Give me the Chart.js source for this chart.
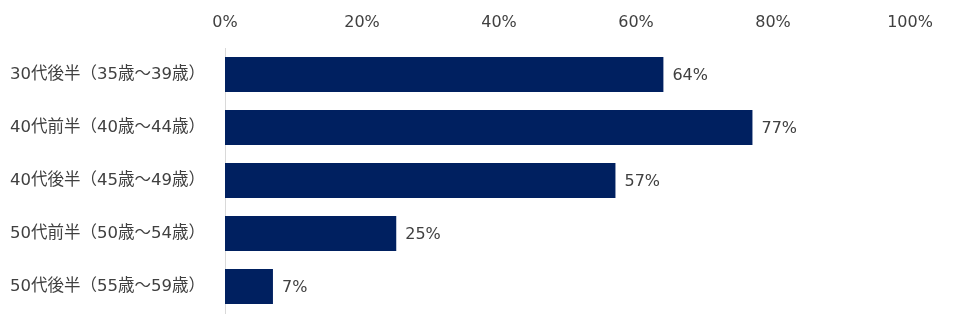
<!DOCTYPE html>
<html>
<head>
<meta charset="utf-8">
<script src="https://cdn.jsdelivr.net/npm/chart.js@4/dist/chart.umd.min.js"></script>
<style>
  html, body { margin: 0; padding: 0; background: #fff; }
  #wrap { width: 956px; height: 333px; }
</style>
</head>
<body>
<div id="wrap"><canvas id="ageChart"></canvas></div>
<script>
const ageGroups = [
  '30代後半（35歳～39歳）',
  '40代前半（40歳～44歳）',
  '40代後半（45歳～49歳）',
  '50代前半（50歳～54歳）',
  '50代後半（55歳～59歳）'
];
const shares = [64, 77, 57, 25, 7];
const axisTicks = [0, 20, 40, 60, 80, 100];

const FONT = "'DejaVu Sans', 'Noto Sans CJK JP', sans-serif";
const TEXT = '#404040';

// value labels just past the end of each bar
const barValueLabels = {
  id: 'barValueLabels',
  afterDatasetsDraw(chart) {
    const { ctx } = chart;
    const meta = chart.getDatasetMeta(0);
    ctx.save();
    ctx.font = `16px ${FONT}`;
    ctx.fillStyle = TEXT;
    ctx.textAlign = 'left';
    ctx.textBaseline = 'middle';
    meta.data.forEach((bar, i) => {
      ctx.fillText(shares[i] + '%', bar.x + 9, bar.y + 1);
    });
    ctx.restore();
  }
};

new Chart(document.getElementById('ageChart'), {
  type: 'bar',
  data: {
    labels: ageGroups,
    datasets: [{
      data: shares,
      backgroundColor: '#002060',
      categoryPercentage: 0.66,
      barPercentage: 1
    }]
  },
  options: {
    indexAxis: 'y',
    responsive: true,
    maintainAspectRatio: false,
    animation: false,
    layout: { padding: { top: 0, right: 46, bottom: 20, left: 0 } },
    plugins: {
      legend: { display: false },
      tooltip: { enabled: false }
    },
    scales: {
      x: {
        position: 'top',
        min: 0,
        max: 100,
        afterBuildTicks: axis => { axis.ticks = axisTicks.map(v => ({ value: v })); },
        afterFit: axis => { axis.height = 48; },
        grid: { display: false },
        border: { display: false },
        ticks: {
          color: TEXT,
          font: { family: FONT, size: 16 },
          padding: 8,
          callback: v => v + '%'
        }
      },
      y: {
        // fixed width; the tick padding shouldn't eat vertical space
        afterFit: axis => {
          axis.width = 225;
          axis.paddingTop = 0;
          axis.paddingBottom = 0;
        },
        grid: { display: false },
        border: { display: true, color: '#d9d9d9', width: 1 },
        ticks: {
          color: TEXT,
          font: { family: FONT, size: 16.5 },
          padding: 12
        }
      }
    }
  },
  plugins: [barValueLabels]
});
</script>
</body>
</html>
